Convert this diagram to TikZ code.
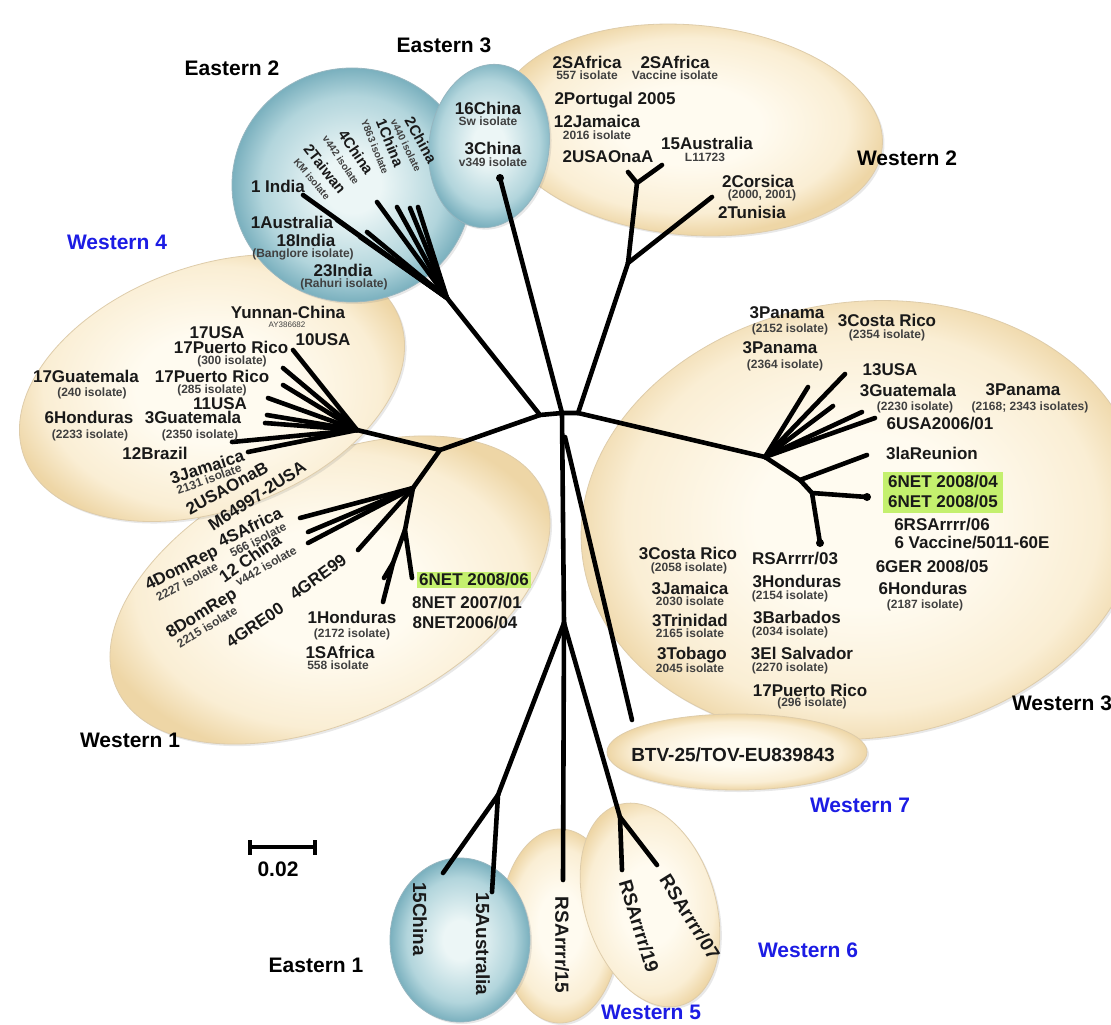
\documentclass[tikz,border=0pt]{standalone}
\usepackage{fontspec}
\setmainfont{Liberation Sans}
\usetikzlibrary{shadows}
\definecolor{tanin}{RGB}{255,251,240}
\definecolor{tanmid}{RGB}{250,238,212}
\definecolor{tanout}{RGB}{238,214,166}
\definecolor{tanedge}{RGB}{222,204,170}
\definecolor{bluein}{RGB}{236,246,246}
\definecolor{bluemid}{RGB}{178,213,220}
\definecolor{blueout}{RGB}{122,176,190}
\definecolor{blueedge}{RGB}{150,182,192}
\definecolor{hlgreen}{RGB}{196,240,110}
\definecolor{wblue}{RGB}{28,28,228}
% radial fills: the path's edge sits at 25bp
\pgfdeclareradialshading{tanshade}{\pgfpoint{0bp}{0bp}}{color(0bp)=(tanin); color(9bp)=(tanin); color(20bp)=(tanmid); color(25bp)=(tanout); color(50bp)=(tanout)}
\pgfdeclareradialshading{blueshade}{\pgfpoint{0bp}{0bp}}{color(0bp)=(bluein); color(6bp)=(bluein); color(19bp)=(bluemid); color(25bp)=(blueout); color(50bp)=(blueout)}
\begin{document}
\begin{tikzpicture}[x=1pt,y=-1pt,
  branch/.style={line width=4.6pt, line cap=round, line join=round, black},
  lab/.style={font=\bfseries\fontsize{17}{17}\selectfont, inner sep=0pt, text=black!90},
  rlab/.style={font=\bfseries\fontsize{15}{15}\selectfont, inner sep=0pt, text=black!90},
  sublab/.style={font=\bfseries\fontsize{12}{12}\selectfont, inner sep=0pt, text=black!75},
  rsublab/.style={font=\bfseries\fontsize{10}{10}\selectfont, inner sep=0pt, text=black!75},
  tinylab/.style={font=\fontsize{8}{8}\selectfont, inner sep=0pt, text=black!75},
  biglab/.style={font=\bfseries\fontsize{19}{19}\selectfont, inner sep=0pt, text=black!90},
  clus/.style={font=\bfseries\fontsize{21}{21}\selectfont, inner sep=0pt, text=black},
  bclus/.style={clus, text=wblue},
  blobshadow/.style={drop shadow={opacity=0.18, shadow xshift=2pt, shadow yshift=-2pt}},
  tanblob/.style={blobshadow, shading=tanshade, draw=tanedge, line width=0.8pt},
  tealblob/.style={blobshadow, shading=blueshade, draw=blueedge, line width=0.8pt},
  hlbox/.style={fill=hlgreen, inner xsep=2pt, inner ysep=1.5pt},
  tipdot/.style={circle, fill=black, inner sep=0pt, minimum size=8pt}
]
% canvas
\fill[white] (0,0) rectangle (1111,1025);
\useasboundingbox (0,0) rectangle (1111,1025);

% ---------- cluster ellipses ----------
\path[tanblob, rotate around={25:(330,590)}] (330,590) ellipse [x radius=235pt, y radius=130pt];   % Western 1
\path[tanblob, rotate around={20:(212,388)}] (212,388) ellipse [x radius=200pt, y radius=122pt];   % Western 4
\path[tealblob] (352,185) ellipse [x radius=120pt, y radius=117pt];                                 % Eastern 2
\path[tanblob, rotate around={-5:(690,130)}] (690,130) ellipse [x radius=193pt, y radius=105pt];   % Western 2
\path[tealblob, rotate around={-8:(489,146)}] (489,146) ellipse [x radius=60pt, y radius=82pt];    % Eastern 3
\path[tanblob, rotate around={8:(862,520)}] (862,520) ellipse [x radius=282pt, y radius=218pt];    % Western 3
\path[tanblob] (737,752) ellipse [x radius=130pt, y radius=38pt];                                   % Western 7
\path[tanblob] (560,926) ellipse [x radius=60pt, y radius=97pt];                                    % Western 5
\path[tealblob] (460,940) ellipse [x radius=70pt, y radius=82pt];                                   % Eastern 1
\path[tanblob, rotate around={18:(650,905)}] (650,905) ellipse [x radius=65pt, y radius=105pt];    % Western 6

% ---------- tree: internal nodes ----------
\coordinate (c1) at (540,415);
\coordinate (c2) at (562,413);
\coordinate (c3) at (578,413);
\coordinate (e2j) at (447,298);
\coordinate (w41) at (440,450);
\coordinate (w4j) at (357,430);
\coordinate (w1j) at (413,488);
\coordinate (w1b) at (405,530);
\coordinate (w1c) at (393,563);
\coordinate (w2j) at (628,263);
\coordinate (w2a) at (637,183);
\coordinate (w3j) at (765,457);
\coordinate (w3a) at (800,480);
\coordinate (w3b) at (812,493);
\coordinate (btvj) at (565,437);
\coordinate (bj) at (564,623);
\coordinate (e1j) at (498,795);
\coordinate (w6j) at (620,817);

% ---------- tree: tips ----------
\coordinate (e2t1) at (303,195);
\coordinate (e2t2) at (337,220);
\coordinate (e2t3) at (360,237);
\coordinate (e2t4) at (367,232);
\coordinate (e2t5) at (377,202);
\coordinate (e2t6) at (397,207);
\coordinate (e2t7) at (410,208);
\coordinate (e2t8) at (418,207);
\coordinate (e3t) at (500,178);
\coordinate (w2t1) at (628,172);
\coordinate (w2t2) at (662,165);
\coordinate (w2t3) at (712,197);
\coordinate (w4t1) at (293,350);
\coordinate (w4t2) at (283,368);
\coordinate (w4t3) at (283,385);
\coordinate (w4t4) at (268,398);
\coordinate (w4t5) at (267,415);
\coordinate (w4t6) at (265,423);
\coordinate (w4t7) at (232,442);
\coordinate (w4t8) at (248,452);
\coordinate (w1t1) at (300,518);
\coordinate (w1t2) at (308,532);
\coordinate (w1t3) at (308,543);
\coordinate (w1t4) at (358,550);
\coordinate (w1t5) at (412,578);
\coordinate (w1t6) at (383,602);
\coordinate (w1t7) at (384,578);
\coordinate (w3t1) at (808,387);
\coordinate (w3t2) at (845,374);
\coordinate (w3t3) at (833,406);
\coordinate (w3t4) at (862,412);
\coordinate (w3t5) at (875,418);
\coordinate (w3t6) at (867,455);
\coordinate (w3t7) at (867,497);
\coordinate (w3t8) at (820,543);
\coordinate (btvt) at (632,720);
\coordinate (e1t1) at (443,873);
\coordinate (e1t2) at (492,892);
\coordinate (w5t) at (563,880);
\coordinate (w6t1) at (622,870);
\coordinate (w6t2) at (657,865);

% ---------- branches ----------
\draw[branch] (e2j) -- (c1) -- (c2) -- (c3);
\draw[branch] (c1) -- (w41);
\draw[branch] (c2) -- (e3t);
\draw[branch] (c3) -- (w2j);
\draw[branch] (c3) -- (w3j);
\draw[branch] (c2) -- (bj);
\draw[branch] (btvj) -- (btvt);
% Eastern 2
\foreach \t in {e2t1,e2t2,e2t3,e2t4,e2t5,e2t6,e2t7,e2t8} \draw[branch] (e2j) -- (\t);
% Western 2
\draw[branch] (w2j) -- (w2a) -- (w2t1);
\draw[branch] (w2a) -- (w2t2);
\draw[branch] (w2j) -- (w2t3);
% Western 4 and Western 1
\draw[branch] (w41) -- (w4j);
\draw[branch] (w41) -- (w1j);
\foreach \t in {w4t1,w4t2,w4t3,w4t4,w4t5,w4t6,w4t7,w4t8} \draw[branch] (w4j) -- (\t);
\foreach \t in {w1t1,w1t2,w1t3,w1t4} \draw[branch] (w1j) -- (\t);
\draw[branch] (w1j) -- (w1b) -- (w1t5);
\draw[branch] (w1b) -- (w1c) -- (w1t6);
\draw[branch] (w1c) -- (w1t7);
% Western 3
\foreach \t in {w3t1,w3t2,w3t3,w3t4,w3t5} \draw[branch] (w3j) -- (\t);
\draw[branch] (w3j) -- (w3a) -- (w3t6);
\draw[branch] (w3a) -- (w3b) -- (w3t7);
\draw[branch] (w3b) -- (w3t8);
% lower clades
\draw[branch] (bj) -- (e1j);
\draw[branch] (bj) -- (w5t);
\draw[branch] (bj) -- (w6j);
\draw[branch] (e1j) -- (e1t1);
\draw[branch] (e1j) -- (e1t2);
\draw[branch] (w6j) -- (w6t1);
\draw[branch] (w6j) -- (w6t2);
% rounded tip ends
\node[tipdot] (d1) at (e3t) {};
\node[tipdot] (d2) at (w3t7) {};
\node[tipdot] (d3) at (w3t8) {};

% ---------- scale bar ----------
\coordinate (sb1) at (250,847);
\coordinate (sb2) at (315,847);
\coordinate (sb1a) at (250,840);
\coordinate (sb1b) at (250,855);
\coordinate (sb2a) at (315,840);
\coordinate (sb2b) at (315,855);
\draw[line width=3.2pt] (sb1) -- (sb2);
\draw[line width=3.2pt] (sb1a) -- (sb1b);
\draw[line width=3.2pt] (sb2a) -- (sb2b);
\node[clus] (sbl) at (278,869) {0.02};

% ---------- Eastern 2 labels ----------
\node[lab] (l1india) at (278,186) {1 India};
\node[lab] (l1aus) at (292,222) {1Australia};
\node[lab] (l18india) at (306,240) {18India};
\node[sublab] (l18s) at (303,254) {(Banglore isolate)};
\node[lab] (l23india) at (343,270) {23India};
\node[sublab] (l23s) at (344,284) {(Rahuri isolate)};
\node[rlab, rotate=-61] (l2china) at (421,140) {2China};
\node[rsublab, rotate=-64] (l2chinas) at (406,145) {v440 isolate};
\node[rlab, rotate=-68] (l1china) at (390,143) {1China};
\node[rsublab, rotate=-68] (l1chinas) at (375,147) {Y863 isolate};
\node[rlab, rotate=-56] (l4china) at (356,152) {4China};
\node[rsublab, rotate=-56] (l4chinas) at (341,160) {v442 isolate};
\node[rlab, rotate=-52] (l2taiwan) at (325,169) {2Taiwan};
\node[rsublab, rotate=-50] (l2taiwans) at (312,179) {KM isolate};

% ---------- Eastern 3 labels ----------
\node[lab] (l16china) at (488,108) {16China};
\node[sublab] (l16s) at (488,121) {Sw isolate};
\node[lab] (l3china) at (493,148) {3China};
\node[sublab] (l3s) at (493,162) {v349 isolate};

% ---------- Western 2 labels ----------
\node[lab] (l2saf) at (587,62) {2SAfrica};
\node[sublab] (l2safs) at (587,75) {557 isolate};
\node[lab] (l2safb) at (675,62) {2SAfrica};
\node[sublab] (l2safbs) at (675,75) {Vaccine isolate};
\node[lab] (l2port) at (615,100) {2Portugal 2005};
\node[lab] (l12jam) at (597,121) {12Jamaica};
\node[sublab] (l12jams) at (597,135) {2016 isolate};
\node[lab] (l2usaa) at (608,157) {2USAOnaA};
\node[lab] (l15aus) at (707,143) {15Australia};
\node[sublab] (l15auss) at (705,157) {L11723};
\node[lab] (l2cors) at (758,181) {2Corsica};
\node[sublab] (l2corss) at (762,195) {(2000, 2001)};
\node[lab] (l2tun) at (752,212) {2Tunisia};

% ---------- Western 4 labels ----------
\node[lab] (lyun) at (288,312) {Yunnan-China};
\node[tinylab] (lyuns) at (287,325) {AY386682};
\node[lab] (l17usa) at (217,333) {17USA};
\node[lab] (l10usa) at (323,340) {10USA};
\node[lab] (l17pr) at (231,347) {17Puerto Rico};
\node[sublab] (l17prs) at (232,361) {(300 isolate)};
\node[lab] (l17gua) at (86,376) {17Guatemala};
\node[sublab] (l17guas) at (92,393) {(240 isolate)};
\node[lab] (l17prb) at (212,376) {17Puerto Rico};
\node[sublab] (l17prbs) at (212,390) {(285 isolate)};
\node[lab] (l11usa) at (220,404) {11USA};
\node[lab] (l6hon) at (89,417) {6Honduras};
\node[sublab] (l6hons) at (90,435) {(2233 isolate)};
\node[lab] (l3gua) at (193,417) {3Guatemala};
\node[sublab] (l3guas) at (200,435) {(2350 isolate)};
\node[lab] (l12bra) at (155,453) {12Brazil};
\node[lab, rotate=18] (l3jam) at (207,467) {3Jamaica};
\node[sublab, rotate=20] (l3jams) at (209,479) {2131 isolate};
\node[lab, rotate=29] (l2usab) at (227,488) {2USAOnaB};
\node[lab, rotate=33] (lm649) at (257,496) {M64997-2USA};

% ---------- Western 1 labels ----------
\node[lab, rotate=27] (l4dom) at (182,569) {4DomRep};
\node[sublab, rotate=28] (l4doms) at (187,582) {2227 isolate};
\node[lab, rotate=26] (l4saf) at (250,527) {4SAfrica};
\node[sublab, rotate=27] (l4safs) at (258,540) {566 isolate};
\node[lab, rotate=35] (l12chi) at (250,558) {12 China};
\node[sublab, rotate=30] (l12chis) at (266,566) {v442 isolate};
\node[lab, rotate=32] (l8dom) at (202,614) {8DomRep};
\node[sublab, rotate=31] (l8doms) at (207,627) {2215 isolate};
\node[lab, rotate=34] (l4gre00) at (255,625) {4GRE00};
\node[lab, rotate=36] (l4gre99) at (318,577) {4GRE99};
\node[lab, hlbox] (l6net06) at (474,580) {6NET 2008/06};
\node[lab] (l8net07) at (467,603) {8NET 2007/01};
\node[lab] (l8net06) at (465,623) {8NET2006/04};
\node[lab] (l1hon) at (352,617) {1Honduras};
\node[sublab] (l1hons) at (352,634) {(2172 isolate)};
\node[lab] (l1saf) at (340,652) {1SAfrica};
\node[sublab] (l1safs) at (338,665) {558 isolate};

% ---------- Western 3 labels ----------
\node[lab] (l3pan1) at (787,313) {3Panama};
\node[sublab] (l3pan1s) at (790,329) {(2152 isolate)};
\node[lab] (l3cos1) at (887,320) {3Costa Rico};
\node[sublab] (l3cos1s) at (887,335) {(2354 isolate)};
\node[lab] (l3pan2) at (780,348) {3Panama};
\node[sublab] (l3pan2s) at (785,365) {(2364 isolate)};
\node[lab] (l13usa) at (890,370) {13USA};
\node[lab] (l3gua2) at (908,390) {3Guatemala};
\node[sublab] (l3gua2s) at (915,407) {(2230 isolate)};
\node[lab] (l3pan3) at (1023,390) {3Panama};
\node[sublab] (l3pan3s) at (1030,407) {(2168; 2343 isolates)};
\node[lab] (l6usa) at (940,424) {6USA2006/01};
\node[lab] (l3lar) at (932,453) {3laReunion};
\node[lab, fill=hlgreen, minimum width=120pt, minimum height=41pt] (lhl) at (943,492) {};
\node[lab] (l6net04) at (943,482) {6NET 2008/04};
\node[lab] (l6net05) at (943,502) {6NET 2008/05};
\node[lab] (l6rsa) at (942,525) {6RSArrrr/06};
\node[lab] (l6vac) at (972,543) {6 Vaccine/5011-60E};
\node[lab] (l6ger) at (932,567) {6GER 2008/05};
\node[lab] (l6hon2) at (923,588) {6Honduras};
\node[sublab] (l6hon2s) at (925,605) {(2187 isolate)};
\node[lab] (l3cos2) at (688,553) {3Costa Rico};
\node[sublab] (l3cos2s) at (689,568) {(2058 isolate)};
\node[lab] (l3jam2) at (690,588) {3Jamaica};
\node[sublab] (l3jam2s) at (690,601) {2030 isolate};
\node[lab] (l3tri) at (690,620) {3Trinidad};
\node[sublab] (l3tris) at (690,633) {2165 isolate};
\node[lab] (l3tob) at (692,655) {3Tobago};
\node[sublab] (l3tobs) at (690,668) {2045 isolate};
\node[lab] (lrsa03) at (795,559) {RSArrrr/03};
\node[lab] (l3hon) at (797,581) {3Honduras};
\node[sublab] (l3hons) at (790,596) {(2154 isolate)};
\node[lab] (l3bar) at (797,617) {3Barbados};
\node[sublab] (l3bars) at (790,632) {(2034 isolate)};
\node[lab] (l3els) at (802,653) {3El Salvador};
\node[sublab] (l3elss) at (790,668) {(2270 isolate)};
\node[lab] (l17pr2) at (810,690) {17Puerto Rico};
\node[sublab] (l17pr2s) at (812,703) {(296 isolate)};

% ---------- Western 7 ----------
\node[biglab] (lbtv) at (733,755) {BTV-25/TOV-EU839843};

% ---------- lower clades ----------
\node[biglab, rotate=-90] (l15chi) at (420,919) {15China};
\node[biglab, rotate=-90] (l15aus2) at (483,944) {15Australia};
\node[biglab, rotate=-90] (lrsa15) at (562,945) {RSArrrr/15};
\node[biglab, rotate=-73] (lrsa19) at (639,926) {RSArrrr/19};
\node[biglab, rotate=-58] (lrsa07) at (690,917) {RSArrrr/07};

% ---------- clade names ----------
\node[clus] (ne2) at (232,68) {Eastern 2};
\node[clus] (ne3) at (444,45) {Eastern 3};
\node[clus] (nw2) at (907,158) {Western 2};
\node[bclus] (nw4) at (117,242) {Western 4};
\node[clus] (nw1) at (130,740) {Western 1};
\node[clus] (nw3) at (1062,703) {Western 3};
\node[bclus] (nw7) at (860,805) {Western 7};
\node[bclus] (nw6) at (808,950) {Western 6};
\node[bclus] (nw5) at (651,1012) {Western 5};
\node[clus] (ne1) at (316,965) {Eastern 1};
\end{tikzpicture}
\end{document}
